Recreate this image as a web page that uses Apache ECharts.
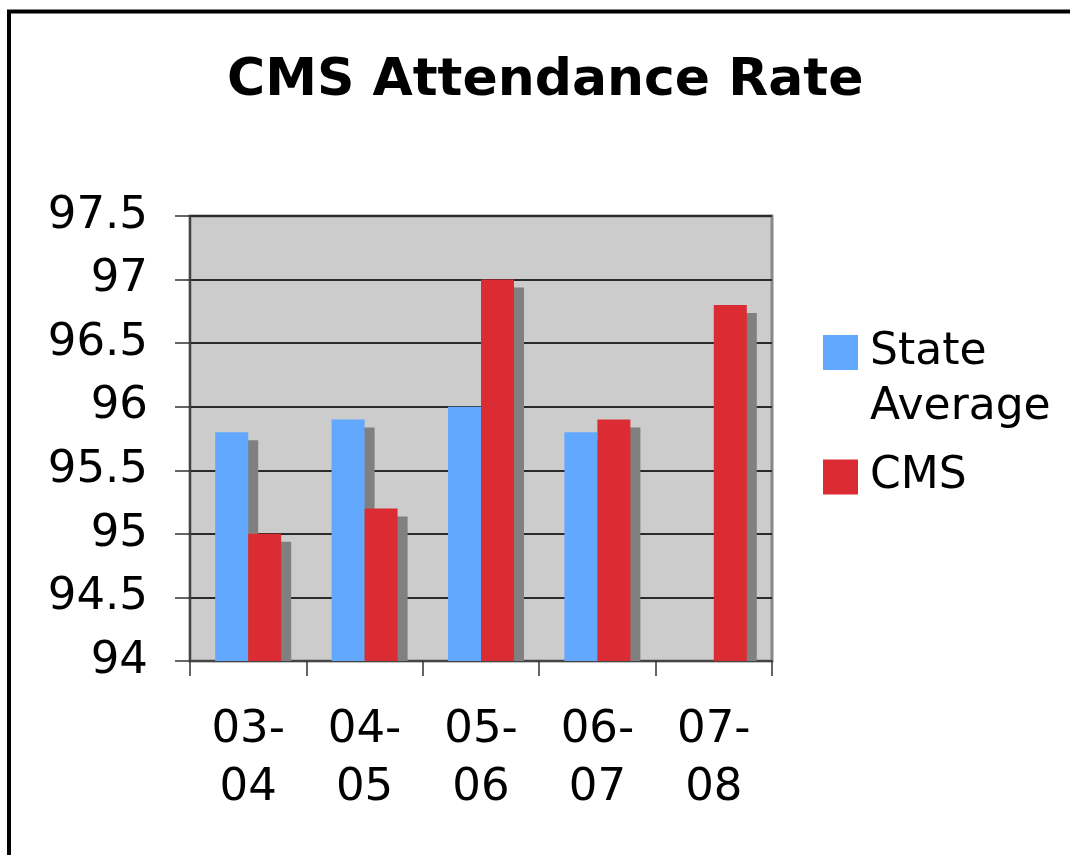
<!DOCTYPE html>
<html>
<head>
<meta charset="utf-8">
<script src="https://cdn.jsdelivr.net/npm/echarts@6/dist/echarts.min.js"></script>
<style>
html,body{margin:0;padding:0;background:#fff;}
#chart{width:1070px;height:855px;}
</style>
</head>
<body>
<div id="chart"></div>
<script>
var categories = ['03-\n04', '04-\n05', '05-\n06', '06-\n07', '07-\n08'];
var stateAverage = [95.8, 95.9, 96.0, 95.8, null];
var cms = [95.0, 95.2, 97.0, 95.9, 96.8];
var yTicks = [94, 94.5, 95, 95.5, 96, 96.5, 97, 97.5];

var FONT = 'DejaVu Sans';
var BAR_W = 33, SH_X = 10, SH_Y = 8;

function shadowSeries(values, side) {
  return {
    type: 'custom',
    name: 'shadow' + side,
    z: 1,
    silent: true,
    data: values.map(function (v, i) { return [i, v]; }),
    renderItem: function (params, api) {
      var v = api.value(1);
      if (v == null || isNaN(v)) return null;
      var top = api.coord([api.value(0), v]);
      var base = api.coord([api.value(0), yTicks[0]]);
      var x0 = top[0] + (side === 0 ? -BAR_W : 0) + SH_X;
      var rect = echarts.graphic.clipRectByRect(
        { x: x0, y: top[1] + SH_Y, width: BAR_W, height: base[1] - top[1] - SH_Y },
        { x: params.coordSys.x, y: params.coordSys.y, width: params.coordSys.width, height: params.coordSys.height }
      );
      if (!rect) return null;
      return { type: 'rect', shape: rect, style: { fill: '#808080' } };
    }
  };
}

var chart = echarts.init(document.getElementById('chart'), null, { renderer: 'canvas' });
chart.setOption({
  animation: false,
  backgroundColor: '#ffffff',
  textStyle: { fontFamily: FONT },
  graphic: [{
    type: 'rect',
    shape: { x: 9, y: 11.5, width: 1200, height: 1000 },
    style: { fill: 'none', stroke: '#000', lineWidth: 4 },
    silent: true
  }],
  title: {
    text: 'CMS Attendance Rate',
    left: 227, top: 55, padding: 0,
    textStyle: { fontFamily: FONT, fontSize: 52, fontWeight: 'bold', color: '#000' }
  },
  legend: [{
    data: ['State Average'],
    left: 823, top: 270, padding: 0,
    itemWidth: 35, itemHeight: 35,
    icon: 'rect',
    selectedMode: false,
    formatter: function () { return ' \nState\nAverage'; },
    textStyle: { fontFamily: FONT, fontSize: 44, color: '#000', lineHeight: 55, padding: [0, 0, 0, 7] }
  }, {
    data: ['CMS'],
    left: 823, top: 455, padding: 0,
    itemWidth: 35, itemHeight: 35,
    icon: 'rect',
    selectedMode: false,
    textStyle: { fontFamily: FONT, fontSize: 44, color: '#000', padding: [0, 0, 0, 7] }
  }],
  grid: {
    left: 190, right: 298, top: 216, bottom: 194,
    show: true,
    backgroundColor: '#cccccc',
    borderColor: '#888888',
    borderWidth: 3
  },
  xAxis: {
    type: 'category',
    data: categories,
    axisLine: { lineStyle: { color: '#444', width: 2 } },
    axisTick: { show: true, length: 15, lineStyle: { color: '#333', width: 1.5 } },
    axisLabel: { fontFamily: FONT, fontSize: 45, color: '#000', lineHeight: 58, margin: 40 }
  },
  yAxis: {
    type: 'value',
    min: yTicks[0], max: yTicks[yTicks.length - 1], interval: 0.5,
    axisLine: { show: true, lineStyle: { color: '#444', width: 2 } },
    axisTick: { show: true, length: 15, lineStyle: { color: '#333', width: 1.5 } },
    axisLabel: { fontFamily: FONT, fontSize: 45, color: '#000', margin: 42 },
    splitLine: { show: true, lineStyle: { color: '#2a2a2a', width: 2 } }
  },
  series: [
    shadowSeries(stateAverage, 0),
    shadowSeries(cms, 1),
    {
      type: 'bar', name: 'State Average', data: stateAverage, z: 2,
      barWidth: BAR_W, barGap: '0%',
      itemStyle: { color: '#62a8ff' }
    },
    {
      type: 'bar', name: 'CMS', data: cms, z: 2,
      barWidth: BAR_W, barGap: '0%',
      itemStyle: { color: '#dc2c33' }
    }
  ]
});
</script>
</body>
</html>
